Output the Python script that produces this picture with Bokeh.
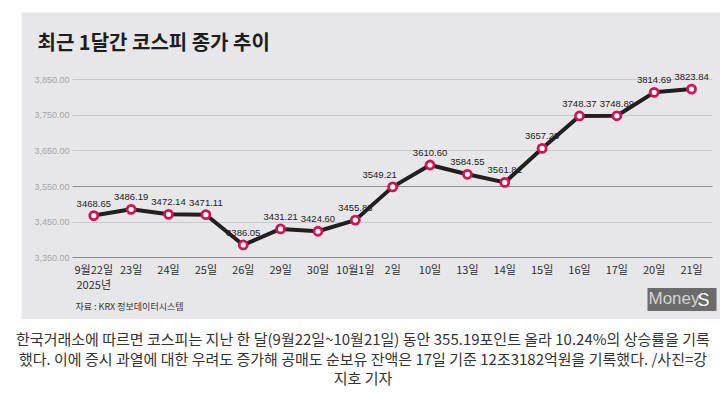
from bokeh.plotting import figure
from bokeh.models import (Range1d, FixedTicker, NumeralTickFormatter, Label, Grid,
                          ColumnDataSource, Div)
from bokeh.layouts import column
from bokeh.core.properties import value
from bokeh.embed import file_html
from bokeh.resources import INLINE

# ---- data ----
dates = ["9월22일\n2025년", "23일", "24일", "25일", "26일", "29일", "30일", "10월1일",
         "2일", "10일", "13일", "14일", "15일", "16일", "17일", "20일", "21일"]
closes = [3468.65, 3486.19, 3472.14, 3471.11, 3386.05, 3431.21, 3424.60, 3455.83,
          3549.21, 3610.60, 3584.55, 3561.81, 3657.28, 3748.37, 3748.89, 3814.69, 3823.84]
y_ticks = [3350, 3450, 3550, 3650, 3750, 3850]
dark_grid = [3550]
title_text = "최근 1달간 코스피 종가 추이"
source_text = "자료 : KRX 정보데이터시스템"
caption_lines = [
    "한국거래소에 따르면 코스피는 지난 한 달(9월22일~10월21일) 동안 355.19포인트 올라 10.24%의 상승률을 기록",
    "했다. 이에 증시 과열에 대한 우려도 증가해 공매도 순보유 잔액은 17일 기준 12조3182억원을 기록했다. /사진=강",
    "지호 기자",
]

label_dx = {8: -13}          # label nudges (style only)

BG = "#e7e7e9"
KR = "Noto Sans CJK KR"

# plot-area layout (in data units): the chart occupies x in [X0, X1], y in [Y_LO, Y_HI]
X0, X1 = -0.57, len(dates) - 1 + 0.56
Y_LO, Y_HI = y_ticks[0], y_ticks[-1]

xs = list(range(len(dates)))
src = ColumnDataSource(dict(
    x=xs, y=closes,
    lab=["%.2f" % v for v in closes],
    dx=[label_dx.get(i, 0) for i in xs],
))

p = figure(width=699, height=307,
           x_range=Range1d(-1.935, 16.775),
           y_range=Range1d(3176.7, 4039.0),
           output_backend="svg", toolbar_location=None,
           min_border=0, min_border_left=0, min_border_right=0,
           min_border_top=0, min_border_bottom=0)
p.background_fill_color = BG
p.border_fill_color = BG
p.outline_line_color = None
p.margin = (12, 0, 0, 21)

# y axis drawn inside the frame at the left edge of the chart area
p.yaxis.fixed_location = X0
p.yaxis.ticker = FixedTicker(ticks=y_ticks)
p.yaxis.formatter = NumeralTickFormatter(format="0,0.00")
p.yaxis.axis_line_color = None
p.yaxis.major_tick_line_color = None
p.yaxis.major_tick_out = 0
p.yaxis.minor_tick_line_color = None
p.yaxis.minor_tick_out = 0
p.yaxis.major_label_standoff = 3
p.yaxis.major_label_text_font = "Liberation Sans"
p.yaxis.major_label_text_font_size = "9px"
p.yaxis.major_label_text_color = "#a6a6a6"

# x axis drawn at the bottom gridline
p.xaxis.fixed_location = Y_LO
p.xaxis.bounds = (X0, X1)
p.xaxis.ticker = FixedTicker(ticks=xs)
p.xaxis.major_label_overrides = {i: d for i, d in enumerate(dates)}
p.xaxis.axis_line_color = "#8e8e8e"
p.xaxis.axis_line_width = 1
p.xaxis.major_tick_line_color = None
p.xaxis.major_tick_out = 0
p.xaxis.minor_tick_line_color = None
p.xaxis.minor_tick_out = 0
p.xaxis.major_label_standoff = 3
p.xaxis.major_label_text_font = KR
p.xaxis.major_label_text_font_size = "11px"
p.xaxis.major_label_text_line_height = 0.95
p.xaxis.major_label_text_color = "#2e2e2e"

p.xgrid.visible = False
light = [t for t in y_ticks if t not in dark_grid and t != Y_LO]
has_cb = "cross_bounds" in Grid.properties()
p.ygrid.ticker = FixedTicker(ticks=light)
p.ygrid.grid_line_color = "#c9c9cb"
p.ygrid.grid_line_width = 1
dg = Grid(dimension=1, ticker=FixedTicker(ticks=dark_grid),
          grid_line_color="#8e8e8e", grid_line_width=1)
p.add_layout(dg)
if has_cb:
    p.ygrid.cross_bounds = (X0, X1)
    dg.cross_bounds = (X0, X1)
else:
    p.ygrid.visible = False
    dg.visible = False
    p.segment(x0=X0, x1=X1, y0=light, y1=light, line_color="#c9c9cb", line_width=1)
    p.segment(x0=X0, x1=X1, y0=dark_grid, y1=dark_grid, line_color="#8e8e8e", line_width=1)

# series
p.line("x", "y", source=src, line_color="#231f20", line_width=4)
p.scatter("x", "y", source=src, size=8, fill_color="white",
          line_color="#d3124f", line_width=2.8)
p.text("x", "y", text="lab", source=src, x_offset="dx", y_offset=-12,
       text_align="center", text_baseline="middle",
       text_font=value("Liberation Sans"), text_font_size="9.5px",
       text_color="#222222")

# title, source and logo (screen units relative to the panel's bottom-left)
p.add_layout(Label(x=16, y=278, x_units="screen", y_units="screen", text=title_text,
                   text_font=KR, text_font_style="bold", text_font_size="20px",
                   text_color="#1e1e1e", text_baseline="middle", text_align="left"))
p.add_layout(Label(x=54, y=13.5, x_units="screen", y_units="screen", text=source_text,
                   text_font=KR, text_font_size="9px", text_color="#333333",
                   text_baseline="middle", text_align="left"))
p.add_layout(Label(x=626, y=20, x_units="screen", y_units="screen", text="Money",
                   text_font="Liberation Sans", text_font_size="17px", text_color="#d3d3d3",
                   text_baseline="middle", text_align="left",
                   background_fill_color="#6b6b6b", padding=(1, 17, 1, 3)))
p.add_layout(Label(x=676, y=20, x_units="screen", y_units="screen", text="S",
                   text_font="Liberation Sans", text_font_size="18px", text_color="#ffffff",
                   text_baseline="middle", text_align="left"))

cap = Div(text="<br>".join(caption_lines), width=710, height=62, margin=(10, 0, 0, 8),
          styles={"font-family": "'Noto Sans CJK KR'", "font-size": "15px",
                  "color": "#333333", "text-align": "center", "line-height": "19.5px"})

layout = column(p, cap)
open("out.html", "w").write(file_html(layout, INLINE))
